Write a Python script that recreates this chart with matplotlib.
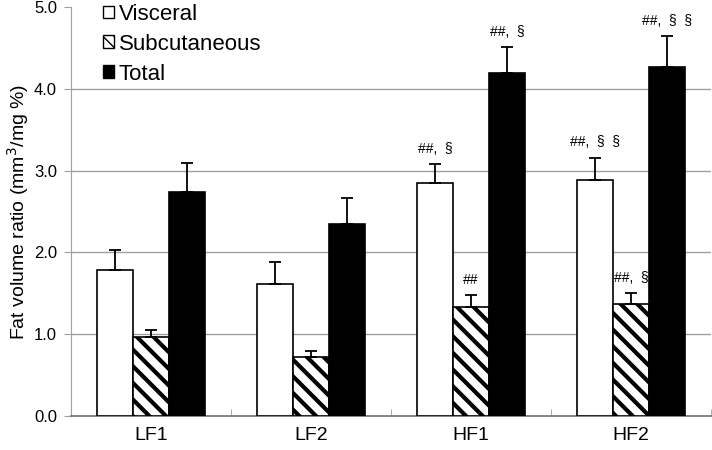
import numpy as np
import matplotlib
matplotlib.use('Agg')
import matplotlib.pyplot as plt
from matplotlib.patches import Patch

grupos = ['LF1', 'LF2', 'HF1', 'HF2']
series = ['Visceral', 'Subcutaneous', 'Total']

visceral = [1.78, 1.62, 2.85, 2.89]
visceral_err = [0.25, 0.26, 0.23, 0.27]
subcutaneo = [0.96, 0.72, 1.33, 1.37]
subcutaneo_err = [0.09, 0.08, 0.15, 0.13]
total = [2.74, 2.35, 4.19, 4.27]
total_err = [0.35, 0.32, 0.32, 0.38]

marcas_visceral = ['', '', '##,  \u00a7', '##,  \u00a7  \u00a7']
marcas_subcutaneo = ['', '', '##', '##,  \u00a7']
marcas_total = ['', '', '##,  \u00a7', '##,  \u00a7  \u00a7']

plt.rcParams['font.family'] = ['Liberation Sans', 'DejaVu Sans']
plt.rcParams['hatch.linewidth'] = 3.0

gris = '#a0a0a0'

fig = plt.figure(figsize=(7.12, 4.5), dpi=100)
ax = fig.add_axes([0.0997, 0.0756, 0.899, 0.9084])

x = np.arange(len(grupos))
ancho = 0.225

datos = [
    (visceral, visceral_err, marcas_visceral, dict(color='white', hatch=None)),
    (subcutaneo, subcutaneo_err, marcas_subcutaneo, dict(color='white', hatch='\\\\')),
    (total, total_err, marcas_total, dict(color='black', hatch=None)),
]

for i, (vals, errs, marcas, estilo) in enumerate(datos):
    pos = x + (i - 1) * ancho
    ax.bar(pos, vals, ancho, facecolor=estilo['color'], edgecolor='black',
           hatch=estilo['hatch'], linewidth=1.2, zorder=3)
    ax.errorbar(pos, vals, yerr=[np.zeros(len(vals)), errs], fmt='none', ecolor='black',
                elinewidth=1.3, capsize=4, capthick=1.3, zorder=4)
    for p, v, e, m in zip(pos, vals, errs, marcas):
        if m:
            ax.text(p, v + e + 0.1, m, ha='center', va='bottom', fontsize=10)

ax.set_xlim(-0.5, len(grupos) - 0.5)
ax.set_ylim(0, 5)
ax.set_yticks(np.arange(0, 5.1, 1.0))
ax.set_yticklabels(['%.1f' % v for v in np.arange(0, 5.1, 1.0)], fontsize=12)
for y in range(1, 5):
    ax.axhline(y, color=gris, linewidth=1.0, zorder=0)

ax.set_xticks(x)
ax.set_xticklabels(grupos, fontsize=14)
ax.tick_params(axis='x', length=0, pad=8)
ax.set_xticks(np.arange(-0.5, len(grupos)), minor=True)
ax.tick_params(axis='x', which='minor', direction='in', length=5, color=gris)
ax.tick_params(axis='y', length=5, color=gris, pad=5)

ax.set_ylabel('Fat volume ratio (mm$^3$/mg %)', fontsize=14, labelpad=2)

for lado in ['top', 'right']:
    ax.spines[lado].set_visible(False)
ax.spines['left'].set_color(gris)
ax.spines['bottom'].set_color('#707070')
ax.spines['bottom'].set_linewidth(1.2)

manijas = [
    Patch(facecolor='white', edgecolor='black', label='Visceral'),
    Patch(facecolor='white', edgecolor='black', hatch='\\\\\\', label='Subcutaneous'),
    Patch(facecolor='black', edgecolor='black', label='Total'),
]
plt.rcParams['hatch.linewidth'] = 1.0
ax.legend(handles=manijas, loc='upper left', bbox_to_anchor=(0.036, 1.03), frameon=False,
          fontsize=16, handlelength=0.5, handleheight=0.5, handletextpad=0.2,
          labelspacing=0.4, borderaxespad=0.0)

fig.savefig('out.png', dpi=100)
